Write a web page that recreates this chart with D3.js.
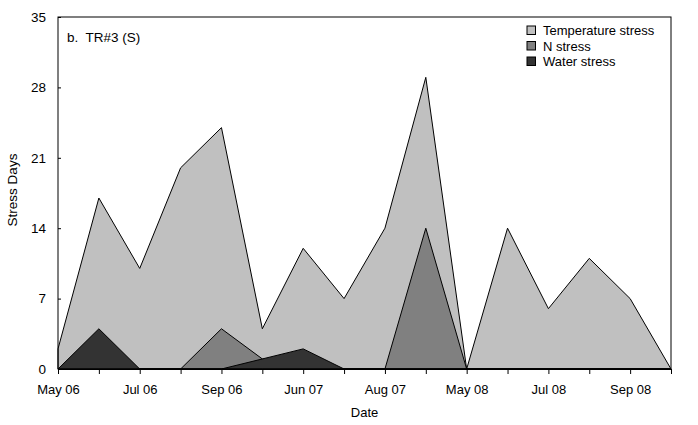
<!DOCTYPE html>
<html><head><meta charset="utf-8">
<script src="https://cdn.jsdelivr.net/npm/d3@7"></script>
<style>body{margin:0;background:#fff}svg text{font-family:"Liberation Sans",Arial,sans-serif;fill:#000}</style>
</head><body><svg id="c" width="698" height="425"></svg>
<script>
const dates = ["May 06","Jun 06","Jul 06","Aug 06","Sep 06","Oct 06","Jun 07","Jul 07","Aug 07","Sep 07","May 08","Jun 08","Jul 08","Aug 08","Sep 08","Oct 08"];
const shownLabels = ["May 06","Jul 06","Sep 06","Jun 07","Aug 07","May 08","Jul 08","Sep 08"];
const tempStress = [2,17,10,20,24,4,12,7,14,29,0,14,6,11,7,0];
const nStress    = [0,0,0,0,4,1,0,0,0,14,0,0,0,0,0,0];
const waterStress= [0,4,0,0,0,1,2,0,0,0,0,0,0,0,0,0];
const yTicks = [0,7,14,21,28,35];
const seriesNames = ["Temperature stress","N stress","Water stress"];
const seriesColors = ["#c0c0c0","#808080","#333333"];

const svg = d3.select("#c");
const m = {l:58, r:671, t:17, b:369};
const x = d3.scalePoint().domain(dates).range([m.l, m.r]).padding(0);
const y = d3.scaleLinear().domain([0,35]).range([m.b, m.t]);

const series = [tempStress, nStress, waterStress];
const area = d3.area().x((d,i)=>x(dates[i])).y0(y(0)).y1(d=>y(d));
series.forEach((s,k)=>{
  svg.append("path").datum(s).attr("d", area)
    .attr("fill", seriesColors[k]).attr("stroke","#000").attr("stroke-width",1).attr("stroke-linejoin","miter");
});

// frame
svg.append("rect").attr("x",m.l).attr("y",m.t).attr("width",m.r-m.l).attr("height",m.b-m.t)
  .attr("fill","none").attr("stroke","#000").attr("stroke-width",1);

// x axis
const xa = svg.append("g").attr("transform",`translate(0,${m.b})`)
  .call(d3.axisBottom(x).tickSize(5).tickPadding(11).tickFormat(d=>shownLabels.includes(d)?d:""));
xa.select(".domain").attr("stroke","#000");
xa.selectAll("text").attr("font-size",13).attr("font-family","Liberation Sans, Arial, sans-serif");

// y axis
const ya = svg.append("g").attr("transform",`translate(${m.l},0)`)
  .call(d3.axisLeft(y).tickValues(yTicks).tickSize(-3).tickPadding(12));
ya.select(".domain").remove();
ya.selectAll("text").attr("font-size",13.5).attr("font-family","Liberation Sans, Arial, sans-serif");

// titles
svg.append("text").attr("x",(m.l+m.r)/2).attr("y",416.5).attr("text-anchor","middle").attr("font-size",13).text("Date");
svg.append("text").attr("transform",`translate(17,190) rotate(-90)`).attr("text-anchor","middle").attr("font-size",13.5).text("Stress Days");
svg.append("text").attr("x",67).attr("y",42).attr("font-size",13.5).style("white-space","pre").text("b.  TR#3 (S)");

// legend
seriesNames.forEach((n,k)=>{
  const yy = 35 + k*15.5;
  svg.append("rect").attr("x",527).attr("y",yy-9).attr("width",8.5).attr("height",8.5)
    .attr("fill",seriesColors[k]).attr("stroke","#000").attr("stroke-width",1);
  svg.append("text").attr("x",543).attr("y",yy).attr("font-size",13).text(n);
});
</script></body></html>
